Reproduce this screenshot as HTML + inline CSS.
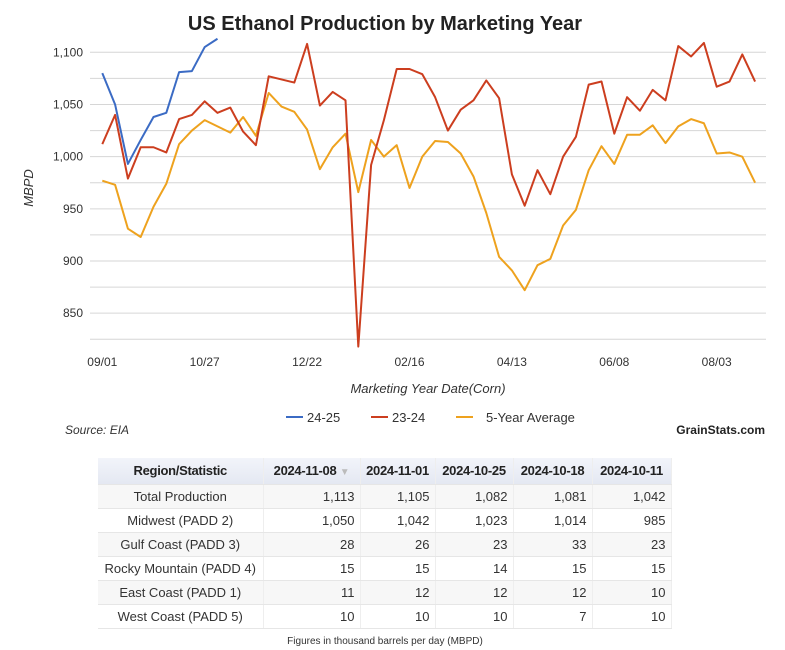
<!DOCTYPE html>
<html><head><meta charset="utf-8"><style>
body{margin:0;width:785px;height:650px;background:#fff;font-family:"Liberation Sans",sans-serif;position:relative;overflow:hidden}
svg text{font-family:"Liberation Sans",sans-serif}
table{position:absolute;left:98px;top:458px;border-collapse:collapse;font-size:13px;color:#333;table-layout:fixed;width:573px}
td,th{height:24px;padding:0 5px;border-bottom:1px solid #e6e6e6;border-right:1px solid #eee;white-space:nowrap;overflow:hidden;box-sizing:border-box}
th{background:linear-gradient(#f2f4fa,#e4e8f2);font-weight:bold;height:26px;color:#222;letter-spacing:-0.3px}
td{text-align:right}
td:first-child{text-align:center;padding:0 2px}
tr:nth-child(even) td{background:#f7f7f7}
</style></head><body>
<svg id="chart" width="785" height="450" style="position:absolute;left:0;top:0">
<text x="385" y="30" text-anchor="middle" font-size="20" font-weight="bold" fill="#222">US Ethanol Production by Marketing Year</text>
<g id="grid"></g><g id="series"></g>
<text transform="translate(33,188) rotate(-90)" text-anchor="middle" font-size="13" font-style="italic" fill="#333">MBPD</text>
<text x="428" y="393" text-anchor="middle" font-size="13" font-style="italic" fill="#333">Marketing Year Date(Corn)</text>
<g font-size="13" fill="#333">
<g><line x1="286" x2="303" y1="417" y2="417" stroke="#3b6bc4" stroke-width="2"/><text x="307" y="422">24-25</text></g>
<g><line x1="371" x2="388" y1="417" y2="417" stroke="#cc3e1f" stroke-width="2"/><text x="392" y="422">23-24</text></g>
<g><line x1="456" x2="473" y1="417" y2="417" stroke="#eea21e" stroke-width="2"/><text x="486" y="422">5-Year Average</text></g>
</g>
<text x="65" y="434" font-size="12" font-style="italic" fill="#333">Source: EIA</text>
<text x="765" y="434" text-anchor="end" font-size="12" font-weight="bold" fill="#222">GrainStats.com</text>
</svg>
<table>
<colgroup><col style="width:165px"><col style="width:97px"><col style="width:75px"><col style="width:78px"><col style="width:79px"><col style="width:79px"></colgroup>
<tr><th>Region/Statistic</th><th>2024-11-08 <span style="color:#bbb;font-size:10px">▼</span></th><th>2024-11-01</th><th>2024-10-25</th><th>2024-10-18</th><th>2024-10-11</th></tr>
<tr><td>Total Production</td><td>1,113</td><td>1,105</td><td>1,082</td><td>1,081</td><td>1,042</td></tr>
<tr><td>Midwest (PADD 2)</td><td>1,050</td><td>1,042</td><td>1,023</td><td>1,014</td><td>985</td></tr>
<tr><td>Gulf Coast (PADD 3)</td><td>28</td><td>26</td><td>23</td><td>33</td><td>23</td></tr>
<tr><td>Rocky Mountain (PADD 4)</td><td>15</td><td>15</td><td>14</td><td>15</td><td>15</td></tr>
<tr><td>East Coast (PADD 1)</td><td>11</td><td>12</td><td>12</td><td>12</td><td>10</td></tr>
<tr><td>West Coast (PADD 5)</td><td>10</td><td>10</td><td>10</td><td>7</td><td>10</td></tr>
</table>
<div style="position:absolute;left:0;width:770px;top:636px;text-align:center;font-size:10px;color:#333">Figures in thousand barrels per day (MBPD)</div>
<script>
const yTicks=[825,850,875,900,925,950,975,1000,1025,1050,1075,1100];
const yLabels=[850,900,950,1000,1050,1100];
const xLabels=["09/01","10/27","12/22","02/16","04/13","06/08","08/03"];
const xLabelIdx=[0,8,16,24,32,40,48];
const s2425=[1080,1050,993,1016,1038,1042,1081,1082,1105,1113];
const s2324=[1012,1040,979,1009,1009,1004,1036,1040,1053,1042,1047,1024,1011,1077,1074,1071,1108,1049,1062,1054,818,992,1035,1084,1084,1079,1057,1025,1045,1054,1073,1056,983,953,987,964,1000,1019,1069,1072,1022,1057,1044,1064,1054,1106,1096,1109,1067,1072,1098,1072];
const s5yr=[977,973,931,923,952,974,1012,1025,1035,1029,1023,1038,1020,1061,1048,1043,1026,988,1009,1022,966,1016,1000,1011,970,1000,1015,1014,1003,981,946,904,891,872,896,902,934,949,987,1010,993,1021,1021,1030,1013,1029,1036,1032,1003,1004,1000,975];
const NS="http://www.w3.org/2000/svg";
const X=i=>102.3+i*12.8;
const Y=v=>52.3+(1100-v)*1.0435;
const grid=document.getElementById('grid'),ser=document.getElementById('series');
function mk(tag,attrs,parent,text){const e=document.createElementNS(NS,tag);for(const k in attrs)e.setAttribute(k,attrs[k]);if(text!==undefined)e.textContent=text;parent.appendChild(e);return e;}
yTicks.forEach(v=>{const l=mk('line',{x1:90,x2:766,y1:Y(v),y2:Y(v),stroke:'#d6d6d6','stroke-width':1},grid);

});
yLabels.forEach(v=>{const t=mk('text',{x:83,y:Y(v)+4,'text-anchor':'end','font-size':12,fill:'#333'},grid,v.toLocaleString('en-US'));

});
xLabels.forEach((s,k)=>{const t=mk('text',{x:X(xLabelIdx[k]),y:366,'text-anchor':'middle','font-size':12,fill:'#333'},grid,s);

});
function line(data,color,name){const p=mk('polyline',{points:data.map((v,i)=>X(i)+','+Y(v)).join(' '),fill:'none',stroke:color,'stroke-width':2,'stroke-linejoin':'round'},ser);

}
line(s5yr,'#eea21e','series-5yr-average');
line(s2324,'#cc3e1f','series-23-24');
line(s2425,'#3b6bc4','series-24-25');
</script>
</body></html>
